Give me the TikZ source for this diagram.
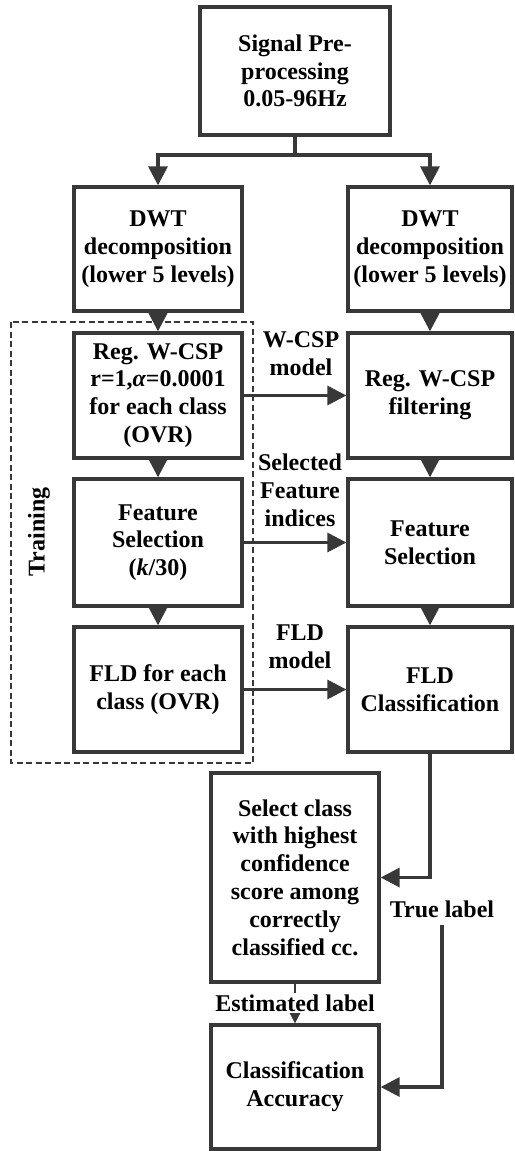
\documentclass[tikz,border=0pt]{standalone}
\usepackage{fontspec}
\setmainfont{Liberation Serif}
\usetikzlibrary{arrows.meta}
\definecolor{linegray}{HTML}{383838}
\begin{document}
\begin{tikzpicture}[x=1pt,y=-1pt,
  txt/.style={font=\fontsize{24}{27.8}\selectfont\bfseries, text=black, align=center},
  box/.style={txt, draw=linegray, line width=3.3pt, rectangle, inner sep=0pt},
  colL/.style={box, minimum width=168pt},
  colR/.style={box, minimum width=164pt},
  lbl/.style={txt, inner sep=1pt},
  flow/.style={draw=linegray, line width=3.3pt, -{Triangle[length=19pt,width=19pt]}},
  frame/.style={draw=linegray, line width=2.8pt, dash pattern=on 6pt off 3.5pt}
]
\useasboundingbox (0,0) rectangle (514,1151);

% top block
\node[box, minimum width=190pt, minimum height=128pt] (pre) at (295,71)
  {Signal Pre-\\processing\\0.05-96Hz};

% training column
\node[colL, minimum height=124pt] (dwtL) at (158,249)
  {DWT\\decomposition\\(lower 5 levels)};
\node[colL, minimum height=125pt] (cspL) at (158,395.5)
  {Reg. W-CSP\\r=1,{\itshape α}=0.0001\\for each class\\(OVR)};
\node[colL, minimum height=127pt] (fsL) at (158,542.5)
  {Feature\\Selection\\({\itshape k}/30)};
\node[colL, minimum height=125pt] (fldL) at (158,689.5)
  {FLD for each\\class (OVR)};

% test column
\node[colR, minimum height=124pt] (dwtR) at (430,249)
  {DWT\\decomposition\\(lower 5 levels)};
\node[colR, minimum height=125pt] (cspR) at (430,395.5)
  {Reg. W-CSP\\filtering};
\node[colR, minimum height=127pt] (fsR) at (430,542.5)
  {Feature\\Selection};
\node[colR, minimum height=125pt] (fldR) at (430,689.5)
  {FLD\\Classification};

% decision blocks
\node[box, minimum width=168pt, minimum height=209pt] (sel) at (295,877.5)
  {Select class\\with highest\\confidence\\score among\\correctly\\classified cc.};
\node[box, minimum width=168pt, minimum height=124pt] (acc) at (295,1087)
  {Classification\\Accuracy};

% training frame
\draw[frame] (11,322) rectangle (253,763);
\node[lbl, rotate=90] (train) at (39,532) {Training};

% split after pre-processing
\draw[draw=linegray, line width=3.3pt] (pre.south) -- (295,155) coordinate (split);
\draw[flow] (split) -| (dwtL.north);
\draw[flow] (split) -| (dwtR.north);

% vertical flow
\draw[flow] (dwtL) -- (cspL);
\draw[flow] (cspL) -- (fsL);
\draw[flow] (fsL) -- (fldL);
\draw[flow] (dwtR) -- (cspR);
\draw[flow] (cspR) -- (fsR);
\draw[flow] (fsR) -- (fldR);

% model transfer
\draw[flow] (cspL.east) -- (cspR.west);
\draw[flow] (fsL.east) -- (fsR.west);
\draw[flow] (fldL.east) -- (fldR.west);
\node[lbl] (mcsp) at (301,354) {W-CSP\\model};
\node[lbl] (mfs) at (300,490) {Selected\\Feature\\indices};
\node[lbl] (mfld) at (300,647) {FLD\\model};

% decision
\draw[flow] (fldR.south) |- (sel.east);
\draw[draw=linegray, line width=2pt, -{Triangle[length=12pt,width=12pt]}] (sel.south) -- (acc.north);
\node[lbl, fill=white, inner sep=2pt] (est) at (295,1003) {Estimated label};
\node[lbl, inner sep=0pt] (truel) at (442,909) {True label};
\draw[flow] (442,925) coordinate (tstart) |- (acc.east);
\end{tikzpicture}
\end{document}
